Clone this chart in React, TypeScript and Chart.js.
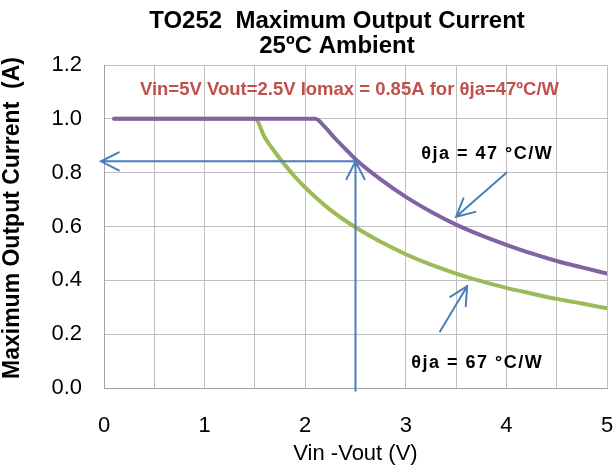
import React, { useEffect, useRef } from "react";
import { Chart, registerables } from "chart.js";

Chart.register(...registerables);

// ---- data ----
const vDrop47 = [0.1, 0.5, 1, 1.5, 2, 2.1, 2.2, 2.3, 2.4, 2.5, 2.75, 3, 3.25, 3.5, 3.75, 4, 4.25, 4.5, 4.75, 5];
const current47 = [1, 1, 1, 1, 1, 1, 0.968, 0.926, 0.888, 0.85, 0.775, 0.71, 0.655, 0.607, 0.567, 0.532, 0.5, 0.472, 0.448, 0.425];
const vDrop67 = [0.1, 0.5, 1, 1.5, 1.6, 1.7, 1.8, 1.9, 2, 2.25, 2.5, 2.75, 3, 3.25, 3.5, 3.75, 4, 4.25, 4.5, 4.75, 5];
const current67 = [1, 1, 1, 1, 0.93, 0.876, 0.828, 0.784, 0.745, 0.662, 0.597, 0.543, 0.497, 0.458, 0.425, 0.397, 0.372, 0.351, 0.331, 0.314, 0.296];
const seriesNames = ["θja = 47 °C/W", "θja = 67 °C/W"];
const titleLines = ["TO252  Maximum Output Current", "25ºC Ambient"];
const noteText = "Vin=5V Vout=2.5V Iomax = 0.85A for θja=47ºC/W";
const xTitle = "Vin -Vout (V)";
const yTitle = "Maximum Output Current  (A)";

// annotation geometry in data units
const arrows = [
  { from: [2.5, 0.842], to: [-0.03, 0.842] },
  { from: [2.5, -0.01], to: [2.5, 0.842] },
  { from: [4.0, 0.8], to: [3.5, 0.636] },
  { from: [3.34, 0.21], to: [3.61, 0.378] },
];
const labels = [
  { text: seriesNames[0], at: [3.81, 0.852] },
  { text: seriesNames[1], at: [3.71, 0.075] },
];
const noteAt = [2.44, 1.09];

const FONT = '"Liberation Sans", Arial, sans-serif';

const annotationPlugin = {
  id: "annots",
  afterDatasetsDraw(chart: any) {
    const { ctx, scales } = chart;
    const xs = scales.x;
    const ys = scales.y;
    ctx.save();
    ctx.strokeStyle = "#4A7EBB";
    ctx.lineWidth = 2;
    ctx.lineCap = "round";
    for (const a of arrows) {
      const x1 = xs.getPixelForValue(a.from[0]);
      const y1 = ys.getPixelForValue(a.from[1]);
      const x2 = xs.getPixelForValue(a.to[0]);
      const y2 = ys.getPixelForValue(a.to[1]);
      ctx.beginPath();
      ctx.moveTo(x1, y1);
      ctx.lineTo(x2, y2);
      const ang = Math.atan2(y2 - y1, x2 - x1);
      const len = 20;
      const spread = (27 * Math.PI) / 180;
      ctx.moveTo(x2 - len * Math.cos(ang - spread), y2 - len * Math.sin(ang - spread));
      ctx.lineTo(x2, y2);
      ctx.lineTo(x2 - len * Math.cos(ang + spread), y2 - len * Math.sin(ang + spread));
      ctx.stroke();
    }
    ctx.fillStyle = "#000";
    ctx.font = `bold 18px ${FONT}`;
    ctx.textAlign = "center";
    ctx.textBaseline = "alphabetic";
    (ctx as any).letterSpacing = "1.5px";
    for (const l of labels) {
      ctx.fillText(l.text, xs.getPixelForValue(l.at[0]), ys.getPixelForValue(l.at[1]));
    }
    (ctx as any).letterSpacing = "0px";
    ctx.fillStyle = "#C0504D";
    ctx.font = `bold 18.5px ${FONT}`;
    ctx.fillText(noteText, xs.getPixelForValue(noteAt[0]), ys.getPixelForValue(noteAt[1]));
    ctx.restore();
  },
  afterDraw(chart: any) {
    const { ctx, chartArea } = chart;
    ctx.save();
    ctx.fillStyle = "#000";
    ctx.textAlign = "center";
    ctx.textBaseline = "alphabetic";
    ctx.font = `bold 24px ${FONT}`;
    ctx.fillText(titleLines[0], 337, 28);
    ctx.fillText(titleLines[1], 337, 53);
    // x axis title
    ctx.font = `22px ${FONT}`;
    ctx.fillText(xTitle, (chartArea.left + chartArea.right) / 2, 460);
    // y axis title
    ctx.translate(19, 218);
    ctx.rotate(-Math.PI / 2);
    ctx.font = `bold 23px ${FONT}`;
    ctx.fillText(yTitle, 0, 0);
    ctx.restore();
  },
};

export default function App() {
  const ref = useRef<HTMLCanvasElement>(null);
  useEffect(() => {
    if (!ref.current) return;
    const chart = new Chart(ref.current, {
      type: "line",
      data: {
        datasets: [
          {
            label: seriesNames[0],
            data: vDrop47.map((x, i) => ({ x, y: current47[i] })),
            borderColor: "#8064A2",
            borderWidth: 4,
            pointRadius: 0,
            cubicInterpolationMode: "monotone",
            borderCapStyle: "round",
            borderJoinStyle: "round",
          },
          {
            label: seriesNames[1],
            data: vDrop67.map((x, i) => ({ x, y: current67[i] })),
            borderColor: "#9BBB59",
            borderWidth: 4,
            pointRadius: 0,
            cubicInterpolationMode: "monotone",
            borderCapStyle: "round",
            borderJoinStyle: "round",
          },
        ],
      },
      plugins: [annotationPlugin],
      options: {
        animation: false,
        responsive: false,
        devicePixelRatio: 1,
        layout: { padding: { top: 65, right: 6, left: 0, bottom: 0 } },
        plugins: { legend: { display: false }, title: { display: false }, tooltip: { enabled: false } },
        scales: {
          x: {
            type: "linear",
            min: 0,
            max: 5,
            afterFit: (s: any) => {
              s.height = 79;
              s.paddingLeft = 0;
              s.paddingRight = 0;
            },
            ticks: {
              stepSize: 0.5,
              autoSkip: false,
              maxRotation: 0,
              padding: 25,
              color: "#000",
              font: { family: FONT, size: 22 },
              callback: (v: any) => (Number.isInteger(Number(v)) ? String(v) : ""),
            },
            grid: { color: "#BFBFBF", lineWidth: 1, drawTicks: false },
            border: { color: "#A0A0A0", width: 1 },
          },
          y: {
            min: 0,
            max: 1.2,
            afterFit: (s: any) => {
              s.width = 104;
              s.paddingTop = 0;
              s.paddingBottom = 0;
            },
            ticks: {
              stepSize: 0.2,
              padding: 22,
              color: "#000",
              font: { family: FONT, size: 22 },
              callback: (v: any) => Number(v).toFixed(1),
            },
            grid: { color: "#BFBFBF", lineWidth: 1, drawTicks: false },
            border: { color: "#A0A0A0", width: 1 },
          },
        },
      },
    } as any);
    return () => chart.destroy();
  }, []);
  return (
    <div style={{ position: "fixed", left: 0, top: 0, width: 613, height: 467, background: "#fff" }}>
      <canvas ref={ref} width={613} height={467} style={{ width: 613, height: 467, display: "block" }} />
    </div>
  );
}
